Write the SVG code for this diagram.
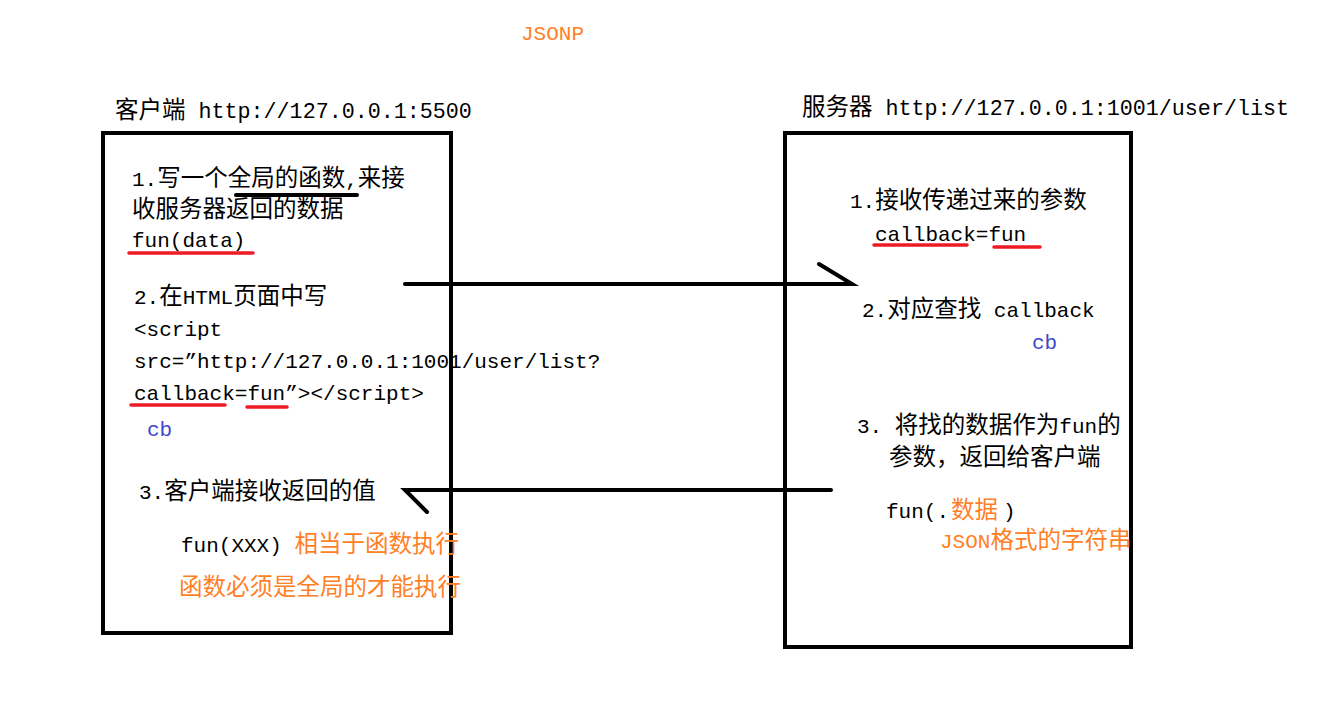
<svg xmlns="http://www.w3.org/2000/svg" width="1341" height="719" viewBox="0 0 1341 719">
<style>
text{font-family:"Liberation Mono","Noto Sans CJK SC",monospace;font-size:21px;fill:#000}
.k{font-family:"Noto Sans CJK SC","Liberation Mono",sans-serif;font-size:23.5px}
.t{font-size:21.7px}
.o{fill:#ff7f27}
.b{fill:#3f48cc}
.box{fill:none;stroke:#000;stroke-width:4}
.ln{fill:none;stroke:#000;stroke-width:4;stroke-linecap:round}
.ul{fill:none;stroke:#ed1c24;stroke-width:3.5;stroke-linecap:round}
.ulk{fill:none;stroke:#000;stroke-width:4;stroke-linecap:round}
</style>
<rect width="1341" height="719" fill="#fff"/>
<text class="o" x="521" y="40">JSONP</text>

<g id="client">
<text class="t" x="115" y="118"><tspan class="k">客户端</tspan> http://127.0.0.1:5500</text>
<rect class="box" x="103" y="133" width="348" height="500"/>
<text x="132" y="186">1.<tspan class="k">写一个全局的函数</tspan>,<tspan class="k">来接</tspan></text>
<path class="ulk" d="M236 195H357"/>
<text x="132" y="217"><tspan class="k">收服务器返回的数据</tspan></text>
<text x="132" y="247">fun(data)</text>
<path class="ul" d="M129 253H253"/>
<text x="134" y="304">2.<tspan class="k">在</tspan>HTML<tspan class="k">页面中写</tspan></text>
<text x="134" y="336">&lt;script</text>
<text x="134" y="368">src=”http://127.0.0.1:1001/user/list?</text>
<text x="134" y="400">callback=fun”&gt;&lt;/script&gt;</text>
<path class="ul" d="M131 405H225M247 407H287"/>
<text class="b" x="147" y="436">cb</text>
<text x="139" y="499">3.<tspan class="k">客户端接收返回的值</tspan></text>
<text x="181" y="552">fun(XXX) <tspan class="k o">相当于函数执行</tspan></text>
<text class="k o" x="179" y="595">函数必须是全局的才能执行</text>
</g>

<g id="server">
<text class="t" x="802" y="115"><tspan class="k">服务器</tspan> http://127.0.0.1:1001/user/list</text>
<rect class="box" x="785" y="133" width="346" height="514"/>
<text x="850" y="208">1.<tspan class="k">接收传递过来的参数</tspan></text>
<text x="875" y="241">callback=fun</text>
<path class="ul" d="M874 245H967M994 247H1040"/>
<text x="862" y="317">2.<tspan class="k">对应查找</tspan> callback</text>
<text class="b" x="1032" y="349">cb</text>
<text x="857" y="433">3. <tspan class="k">将找的数据作为</tspan>fun<tspan class="k">的</tspan></text>
<text x="889" y="465"><tspan class="k">参数，返回给客户端</tspan></text>
<text x="886" y="518">fun(.<tspan class="k o" x="951">数据</tspan><tspan x="1003">)</tspan></text>
<text x="940" y="548"><tspan class="o">JSON</tspan><tspan class="k o">格式的字符串</tspan></text>
</g>

<g id="connectors">
<path class="ln" d="M405 284H852L819 264"/>
<path class="ln" d="M831 490H405L427 512"/>
</g>
</svg>
